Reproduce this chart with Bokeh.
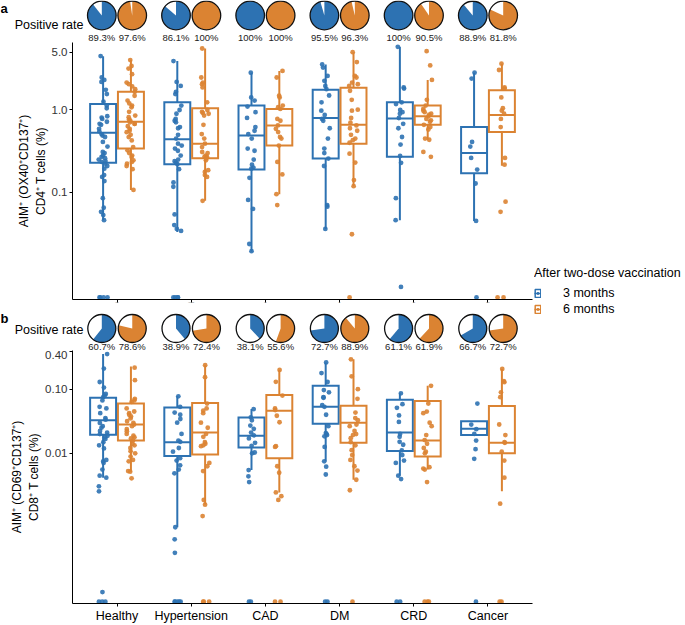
import math
from bokeh.plotting import figure
from bokeh.models import (ColumnDataSource, FactorRange, Range1d, FixedTicker,
                          PrintfTickFormatter, Label, Legend, LegendItem)
from bokeh.transform import dodge, jitter
from bokeh.layouts import row, column
from bokeh.embed import file_html
from bokeh.resources import INLINE
from bokeh.core.properties import value

# ---------------- data ----------------
categories = ["Healthy", "Hypertension", "CAD", "DM", "CRD", "Cancer"]
groups = ["3 months", "6 months"]

# positive rates (%) shown in the pies
a_rate_3m = [89.3, 86.1, 100, 95.5, 100, 88.9]
a_rate_6m = [97.6, 100, 100, 96.3, 90.5, 81.8]
b_rate_3m = [60.7, 38.9, 38.1, 72.7, 61.1, 66.7]
b_rate_6m = [78.6, 72.4, 55.6, 88.9, 61.9, 72.7]

# box statistics per category: (lower whisker, q1, median, q3, upper whisker)
a_box_3m = [(0.046, 0.228, 0.53, 1.18, 4.5), (0.033, 0.22, 0.44, 1.24, 3.93),
            (0.019, 0.19, 0.49, 1.13, 2.84), (0.036, 0.257, 0.80, 1.76, 3.58),
            (0.046, 0.27, 0.79, 1.24, 5.85), (0.045, 0.17, 0.30, 0.62, 2.84)]
a_box_6m = [(0.107, 0.34, 0.72, 1.66, 4.04), (0.079, 0.26, 0.39, 1.05, 5.6),
            (0.095, 0.37, 0.65, 1.03, 2.98), (0.119, 0.39, 0.66, 1.86, 5.03),
            (0.435, 0.66, 0.84, 1.13, 2.32), (0.21, 0.54, 0.87, 1.74, 3.65)]
b_box_3m = [(0.0041, 0.0194, 0.0327, 0.0738, 0.36), (0.00068, 0.009, 0.0148, 0.052, 0.078),
            (0.0054, 0.0122, 0.0187, 0.0363, 0.0492), (0.0074, 0.0288, 0.0534, 0.114, 0.265),
            (0.0044, 0.0108, 0.021, 0.069, 0.087), (0.0192, 0.0192, 0.0241, 0.0316, 0.0316)]
b_box_6m = [(0.0051, 0.0157, 0.0282, 0.060, 0.23), (0.00155, 0.0095, 0.021, 0.0613, 0.241),
            (0.0024, 0.0083, 0.0464, 0.082, 0.203), (0.0038, 0.0145, 0.0299, 0.0552, 0.298),
            (0.0055, 0.0088, 0.0157, 0.0658, 0.114), (0.0025, 0.0099, 0.0145, 0.0547, 0.21)]

# individual values (%) per category; 0 = not detected
a_pts_3m = [
    [4.51, 2.48, 2.32, 2.19, 1.76, 1.56, 1.26, 1.13, 1.05, 0.84, 0.81, 0.78, 0.72, 0.68, 0.66,
     0.59, 0.55, 0.51, 0.49, 0.47, 0.41, 0.36, 0.31, 0.30, 0.28, 0.27, 0.26, 0.25, 0.24, 0.234,
     0.223, 0.209, 0.194, 0.162, 0.154, 0.137, 0.085, 0.065, 0.058, 0.053, 0.046, 0, 0, 0, 0],
    [3.93, 2.19, 1.96, 1.66, 1.56, 1.13, 1.0, 0.9, 0.78, 0.74, 0.71, 0.62, 0.60, 0.50, 0.45,
     0.39, 0.37, 0.34, 0.32, 0.28, 0.25, 0.239, 0.23, 0.22, 0.191, 0.132, 0.117, 0.054, 0.040,
     0.036, 0.034, 0, 0, 0, 0],
    [2.84, 1.42, 1.30, 1.1, 0.94, 0.8, 0.62, 0.56, 0.51, 0.45, 0.34, 0.32, 0.25, 0.217, 0.2,
     0.194, 0.15, 0.081, 0.063, 0.0236, 0.0193],
    [3.58, 3.27, 2.59, 2.26, 1.96, 1.79, 1.5, 1.24, 0.98, 0.87, 0.78, 0.74, 0.6, 0.45, 0.34,
     0.3, 0.257, 0.209, 0.070, 0.067, 0.036],
    [5.85, 1.88, 1.82, 1.24, 1.18, 1.0, 0.94, 0.90, 0.8, 0.68, 0.6, 0.47, 0.38, 0.277, 0.228,
     0.085, 0.046, 0.0071],
    [2.84, 2.41, 0.41, 0.36, 0.262, 0.189, 0.128, 0.045, 0],
]
a_pts_6m = [
    [4.04, 3.42, 3.18, 2.72, 2.15, 2.06, 1.93, 1.79, 1.66, 1.49, 1.30, 1.2, 1.13, 1.08, 0.95,
     0.855, 0.817, 0.766, 0.75, 0.71, 0.68, 0.678, 0.635, 0.59, 0.56, 0.538, 0.5, 0.469, 0.427,
     0.355, 0.324, 0.3, 0.28, 0.269, 0.245, 0.234, 0.223, 0.209, 0.191, 0.107],
    [5.58, 2.48, 2.15, 2.06, 1.88, 1.24, 1.0, 0.95, 0.92, 0.90, 0.855, 0.66, 0.51, 0.45, 0.39,
     0.355, 0.309, 0.3, 0.28, 0.27, 0.269, 0.26, 0.245, 0.186, 0.177, 0.162, 0.154, 0.079],
    [2.98, 2.48, 1.49, 1.42, 1.13, 1.08, 1.03, 0.78, 0.74, 0.65, 0.59, 0.54, 0.47, 0.45, 0.37,
     0.234, 0.165, 0.095, 0.070],
    [5.04, 3.82, 2.59, 2.48, 2.15, 2.06, 1.96, 1.71, 1.33, 1.01, 0.98, 0.8, 0.7, 0.65, 0.6,
     0.56, 0.50, 0.45, 0.43, 0.40, 0.295, 0.23, 0.141, 0.119, 0.031, 0],
    [5.18, 3.48, 2.32, 1.33, 1.13, 1.03, 0.98, 0.94, 0.90, 0.88, 0.84, 0.78, 0.75, 0.72, 0.66,
     0.62, 0.58, 0.45, 0.435, 0.31, 0.27],
    [3.65, 3.06, 1.88, 1.82, 1.42, 1.05, 0.98, 0.90, 0.78, 0.62, 0.262, 0.217, 0.077, 0.058, 0, 0],
]
b_pts_3m = [
    [0.36, 0.213, 0.131, 0.107, 0.085, 0.080, 0.0757, 0.0673, 0.0534, 0.0503, 0.0423, 0.0355,
     0.0335, 0.0298, 0.0265, 0.0251, 0.0223, 0.021, 0.0199, 0.0187, 0.0177, 0.0167, 0.0148,
     0.0132, 0.0118, 0.0078, 0.0074, 0.007, 0.0055, 0.0044, 0.0041, 0.003, 0.0025, 0.000065,
     0, 0, 0],
    [0.078, 0.0534, 0.0433, 0.040, 0.0343, 0.03, 0.02, 0.0157, 0.015, 0.012, 0.0105, 0.0083,
     0.0076, 0.0064, 0.0055, 0.0048, 0.00068, 0.00044, 0.00027, 0, 0, 0, 0, 0],
    [0.0492, 0.0364, 0.0328, 0.027, 0.024, 0.021, 0.019, 0.017, 0.0145, 0.013, 0.0102, 0.0099,
     0.0054, 0.0043, 0.0035, 0, 0],
    [0.266, 0.181, 0.131, 0.0977, 0.0901, 0.0757, 0.074, 0.0567, 0.0534, 0.04, 0.0265, 0.0206,
     0.0199, 0.0192, 0.0183, 0.0125, 0.0074, 0.0061, 0.0046, 0, 0],
    [0.087, 0.0586, 0.0515, 0.039, 0.0309, 0.02, 0.018, 0.015, 0.0135, 0.011, 0.0093, 0.0076,
     0.007, 0.0044, 0.0039, 0, 0],
    [0.0599, 0.028, 0.0237, 0.02, 0.0157, 0.0115, 0.0081, 0],
]
b_pts_6m = [
    [0.22, 0.14, 0.0713, 0.0673, 0.0636, 0.0503, 0.045, 0.0423, 0.040, 0.0377, 0.035, 0.0316,
     0.0298, 0.028, 0.0265, 0.0237, 0.022, 0.02, 0.0187, 0.0177, 0.017, 0.0157, 0.014, 0.0132,
     0.012, 0.0107, 0.0099, 0.0088, 0.0078, 0.0074, 0.0052, 0.0051, 0.0040],
    [0.241, 0.156, 0.0599, 0.0503, 0.0464, 0.0423, 0.03, 0.025, 0.02, 0.018, 0.0148, 0.014,
     0.0132, 0.0128, 0.007, 0.0062, 0.0052, 0.00183, 0.00154, 0.00102, 0, 0, 0],
    [0.203, 0.132, 0.080, 0.0503, 0.0475, 0.0386, 0.0305, 0.0128, 0.0125, 0.0062, 0.0049,
     0.0024, 0.0021, 0.00183, 0, 0],
    [0.298, 0.161, 0.101, 0.0713, 0.0433, 0.0355, 0.0328, 0.0281, 0.0265, 0.0223, 0.0199,
     0.0192, 0.0171, 0.0148, 0.0132, 0.0111, 0.0093, 0.0078, 0.0062, 0.0053, 0.0038, 0.0026, 0],
    [0.114, 0.06, 0.0449, 0.0423, 0.03, 0.0265, 0.0192, 0.016, 0.014, 0.012, 0.0105, 0.0099,
     0.006, 0.0057, 0.0055, 0.0035, 0, 0, 0],
    [0.21, 0.135, 0.13, 0.0901, 0.0757, 0.0281, 0.0192, 0.0148, 0.0145, 0.0105, 0.0076, 0.0041,
     0.0016, 0, 0],
]

a_ylabel = "AIM\u207a (OX40\u207aCD137\u207a)\nCD4\u207a T cells (%)"
b_ylabel = "AIM\u207a (CD69\u207aCD137\u207a)\nCD8\u207a T cells (%)"
a_ticks = [0.1, 1.0, 5.0]
b_ticks = [0.01, 0.1, 0.4]

# ---------------- style / layout ----------------
FONT = "Liberation Sans"
BLUE, ORANGE = "#2D72B2", "#DB8332"
COLORS = [BLUE, ORANGE]
OFFS = [-0.1875, 0.1875]
PIE_OFFS = [-0.205, 0.205]
BOXW = 0.35
W_LEFT, W_LEG = 534, 151
B_LEFT, B_RIGHT = 72, 2
PAD = 0.1
H_PIE_A, H_PA, H_PIE_B, H_PB = 42, 264, 44, 275
BB_A, BB_B = 4, 21
A_RANGE = (0.005, 6.6)
B_RANGE = (4.3e-5, 0.41)
A_FLOOR, B_FLOOR = 0.0053, 4.6e-5

x_range = FactorRange(factors=categories, range_padding=PAD, range_padding_units="absolute")
PXU = (W_LEFT - B_LEFT - B_RIGHT) / (len(categories) + 2 * PAD)
pie_xr = (-PAD - B_LEFT / PXU, len(categories) + PAD + B_RIGHT / PXU)


def pie_fig(h, r3, r6, letter, pie_y, pie_r, txt_y, rate_y, letter_top):
    p = figure(width=W_LEFT, height=h, x_range=Range1d(*pie_xr), y_range=Range1d(0, h),
               x_axis_location=None, y_axis_location=None, toolbar_location=None,
               output_backend="svg", min_border=0, outline_line_color=None)
    p.frame_align = False
    p.grid.visible = False
    for rates, off, col in zip([r3, r6], PIE_OFFS, COLORS):
        src = ColumnDataSource(dict(
            cat=categories,
            end=[math.pi / 2 + 2 * math.pi * (1 - r / 100.0) for r in rates],
            lab=[f"{r:g}%" for r in rates]))
        xd = dodge("cat", off, range=x_range)
        p.circle(x=xd, y=pie_y, radius=pie_r, radius_units="screen", source=src,
                 fill_color=col, line_color=None)
        p.wedge(x=xd, y=pie_y, radius=pie_r, radius_units="screen", start_angle=math.pi / 2,
                end_angle="end", direction="anticlock", source=src,
                fill_color="white", line_color=None)
        p.circle(x=xd, y=pie_y, radius=pie_r, radius_units="screen", source=src,
                 fill_color=None, line_color="#111111", line_width=1.3)
        p.text(x=xd, y=txt_y, text="lab", source=src, text_align="center",
               text_baseline="middle", text_font=value(FONT), text_font_size="9.5px",
               text_color="#222222")
    p.add_layout(Label(x=83, y=rate_y, x_units="screen", y_units="screen",
                       text="Positive rate", text_align="right", text_baseline="middle",
                       text_font=FONT, text_font_size="12.5px", text_color="black"))
    p.add_layout(Label(x=0, y=h - letter_top, x_units="screen", y_units="screen", text=letter,
                       text_align="left", text_baseline="top", text_font=FONT,
                       text_font_size="13px", text_font_style="bold", text_color="black"))
    return p


def box_source(box):
    lo, q1, med, q3, hi = zip(*box)
    return ColumnDataSource(dict(cat=categories, lo=list(lo), q1=list(q1), med=list(med),
                                 q3=list(q3), hi=list(hi)))


def pts_source(pts, floor):
    cat, val = [], []
    for c, vals in zip(categories, pts):
        for v in vals:
            cat.append(c)
            val.append(v if v > 0 else floor)
    return ColumnDataSource(dict(cat=cat, val=val))


def panel_fig(h, bb, yr, ticks, fmt, ylabel, boxes, ptss, floor, show_labels):
    p = figure(width=W_LEFT, height=h, x_range=x_range, y_range=Range1d(*yr), y_axis_type="log",
               toolbar_location=None, output_backend="svg",
               min_border_left=B_LEFT, min_border_right=B_RIGHT, min_border_top=0,
               min_border_bottom=bb, outline_line_color=None)
    p.grid.visible = False
    for box, off, col in zip(boxes, OFFS, COLORS):
        src = box_source(box)
        xd = dodge("cat", off, range=x_range)
        p.segment(x0=xd, x1=xd, y0="lo", y1="q1", source=src, line_color=col, line_width=2)
        p.segment(x0=xd, x1=xd, y0="q3", y1="hi", source=src, line_color=col, line_width=2)
        p.vbar(x=xd, width=BOXW, bottom="q1", top="q3", source=src, fill_color=None,
               line_color=col, line_width=2, line_join="miter")
        p.segment(x0=dodge("cat", off - BOXW / 2, range=x_range),
                  x1=dodge("cat", off + BOXW / 2, range=x_range),
                  y0="med", y1="med", source=src, line_color=col, line_width=2)
    for pts, off, col in zip(ptss, OFFS, COLORS):
        ps = pts_source(pts, floor)
        p.scatter(x=jitter("cat", width=0.12, mean=off, range=x_range), y="val", source=ps,
                  size=4.8, fill_color=col, line_color=None, fill_alpha=0.9)
    yax = p.yaxis[0]
    yax.ticker = FixedTicker(ticks=ticks)
    yax.formatter = PrintfTickFormatter(format=fmt)
    yax.axis_label = ylabel
    yax.axis_label_text_font = FONT
    yax.axis_label_text_font_size = "12px"
    yax.axis_label_text_font_style = "normal"
    yax.axis_label_text_color = "black"
    yax.axis_label_standoff = 1
    for ax in (p.xaxis[0], yax):
        ax.major_label_text_font = FONT
        ax.axis_line_color = "black"
        ax.axis_line_width = 1
        ax.major_tick_line_color = "black"
        ax.major_tick_out = 3
        ax.major_tick_in = 0
        ax.minor_tick_line_color = None
    yax.major_label_text_font_size = "11.5px"
    yax.major_label_text_color = "#333333"
    yax.major_label_standoff = 2
    xax = p.xaxis[0]
    xax.axis_label = None
    xax.axis_label_standoff = 0
    if show_labels:
        xax.major_label_text_font_size = "12.5px"
        xax.major_label_text_color = "black"
        xax.major_label_standoff = 2
    else:
        xax.major_label_overrides = {c: "" for c in categories}
        xax.major_label_text_font_size = "1px"
        xax.major_label_standoff = 0
    return p


pies_a = pie_fig(H_PIE_A, a_rate_3m, a_rate_6m, "a", pie_y=27, pie_r=14.3, txt_y=5,
                 rate_y=18, letter_top=0)
panel_a = panel_fig(H_PA, BB_A, A_RANGE, a_ticks, "%.1f", a_ylabel, [a_box_3m, a_box_6m],
                    [a_pts_3m, a_pts_6m], A_FLOOR, False)
pies_b = pie_fig(H_PIE_B, b_rate_3m, b_rate_6m, "b", pie_y=22, pie_r=14, txt_y=4.5,
                 rate_y=21, letter_top=4)
panel_b = panel_fig(H_PB, BB_B, B_RANGE, b_ticks, "%.2f", b_ylabel, [b_box_3m, b_box_6m],
                    [b_pts_3m, b_pts_6m], B_FLOOR, True)

# legend panel
H_ALL = H_PIE_A + H_PA + H_PIE_B + H_PB
leg = figure(width=W_LEG, height=H_ALL, x_range=Range1d(0, 1), y_range=Range1d(0, 1),
             x_axis_location=None, y_axis_location=None, toolbar_location=None,
             output_backend="svg", min_border=0, outline_line_color=None)
leg.frame_align = False
leg.grid.visible = False
items = []
for g, col in zip(groups, COLORS):
    r1 = leg.quad(left=[-3], right=[-2], top=[-2], bottom=[-3], fill_color="white",
                  line_color=col, line_width=1.5)
    r2 = leg.segment(x0=[-3], x1=[-2], y0=[-3], y1=[-3], line_color=col, line_width=1.5)
    r3 = leg.scatter(x=[-3], y=[-3], size=3.5, fill_color=col, line_color=None)
    items.append(LegendItem(label=g, renderers=[r1, r2, r3]))
legend = Legend(items=items, title="After two-dose vaccination", location=(0, H_ALL - 316),
                padding=0, margin=0, border_line_color=None, background_fill_alpha=0,
                title_text_font=FONT, title_text_font_size="12.5px",
                title_text_font_style="normal", title_text_color="black", title_standoff=6,
                label_text_font=FONT, label_text_font_size="12.5px", label_text_color="black",
                label_standoff=22, glyph_width=7, glyph_height=10, label_height=14, spacing=2)
leg.add_layout(legend)

layout = row(column(pies_a, panel_a, pies_b, panel_b), leg)
open("out.html", "w").write(file_html(layout, INLINE))
